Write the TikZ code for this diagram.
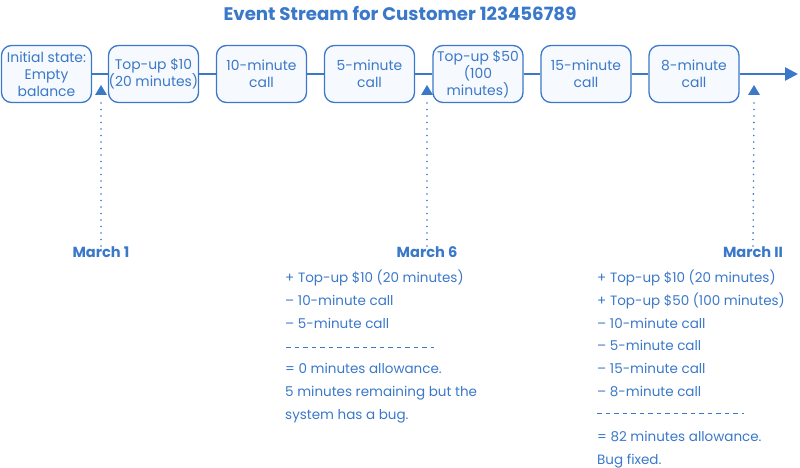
\documentclass[tikz,border=0pt]{standalone}
\usepackage{fontspec}
\setmainfont{Poppins}
\usetikzlibrary{arrows.meta}
\definecolor{evblue}{HTML}{3A78C9}
\definecolor{evfill}{HTML}{F6F9FD}
\begin{document}
\begin{tikzpicture}[x=1pt,y=-1pt,
  evbox/.style={draw=evblue,line width=1.3pt,fill=evfill,rounded corners=10pt,minimum width=90pt,minimum height=57pt,inner sep=0pt,align=center,text=evblue,font=\fontsize{13.9}{17}\selectfont},
  tline/.style={evblue,line width=2.6pt},
  dots/.style={evblue,line width=1.8pt,dash pattern=on 0pt off 6.5pt,line cap=round},
  datelbl/.style={text=evblue,font=\fontseries{sb}\fontsize{14.6}{17}\selectfont},
  listtxt/.style={text=evblue,anchor=north west,inner sep=0pt,align=left,font=\fontsize{13.5}{22.7}\selectfont},
  sepline/.style={evblue,line width=0.8pt,dash pattern=on 4.5pt off 4pt}]
\useasboundingbox (0,0) rectangle (800,468);
\node[text=evblue,font=\fontseries{sb}\fontsize{18.2}{20}\selectfont] (title) at (400,13) {Event Stream for Customer 123456789};
\node[evbox] (b1) at (46.5,74) {Initial state:\\Empty\\balance};
\node[evbox] (b2) at (153.5,74) {Top-up \$10\\(20 minutes)};
\node[evbox] (b3) at (261.5,74) {10-minute\\call};
\node[evbox] (b4) at (369.5,74) {5-minute\\call};
\node[evbox] (b5) at (478,74) {Top-up \$50\\(100\\minutes)};
\node[evbox] (b6) at (586,74) {15-minute\\call};
\node[evbox] (b7) at (694,74) {8-minute\\call};
\coordinate (end) at (798,74);
\draw[tline] (b1) -- (b2);
\draw[tline] (b2) -- (b3);
\draw[tline] (b3) -- (b4);
\draw[tline] (b4) -- (b5);
\draw[tline] (b5) -- (b6);
\draw[tline] (b6) -- (b7);
\draw[tline,-{Triangle[length=13pt,width=13pt]}] (b7) -- (end);
% markers
\fill[evblue] (101,85) -- (107,95) -- (95,95) -- cycle;
\fill[evblue] (427,85) -- (433,95) -- (421,95) -- cycle;
\fill[evblue] (754,85) -- (760,95) -- (748,95) -- cycle;
\node[datelbl] (d1) at (101,252) {March 1};
\node[datelbl] (d6) at (427,252) {March 6};
\node[datelbl] (d11) at (753,252) {March II};
\coordinate (t1) at (101,103);
\coordinate (t6) at (427,103);
\coordinate (t11) at (754,103);
\draw[dots] (t1) -- ([yshift=-5pt]d1.north);
\draw[dots] (t6) -- ([yshift=-5pt]d6.north);
\draw[dots] (t11) -- ([yshift=-5pt]d11.north);
\node[listtxt] (l6) at (285,270) {+ Top-up \$10 (20 minutes)\\– 10-minute call\\– 5-minute call\\\phantom{x}\\= 0 minutes allowance.\\5 minutes remaining but the\\system has a bug.};
\node[listtxt] (l11) at (597,270) {+ Top-up \$10 (20 minutes)\\+ Top-up \$50 (100 minutes)\\– 10-minute call\\– 5-minute call\\– 15-minute call\\– 8-minute call\\\phantom{x}\\= 82 minutes allowance.\\Bug fixed.};
\coordinate (s6a) at (286,347);
\coordinate (s6b) at (434,347);
\coordinate (s11a) at (597,413);
\coordinate (s11b) at (744,413);
\draw[sepline] (s6a) -- (s6b);
\draw[sepline] (s11a) -- (s11b);
\end{tikzpicture}
\end{document}
